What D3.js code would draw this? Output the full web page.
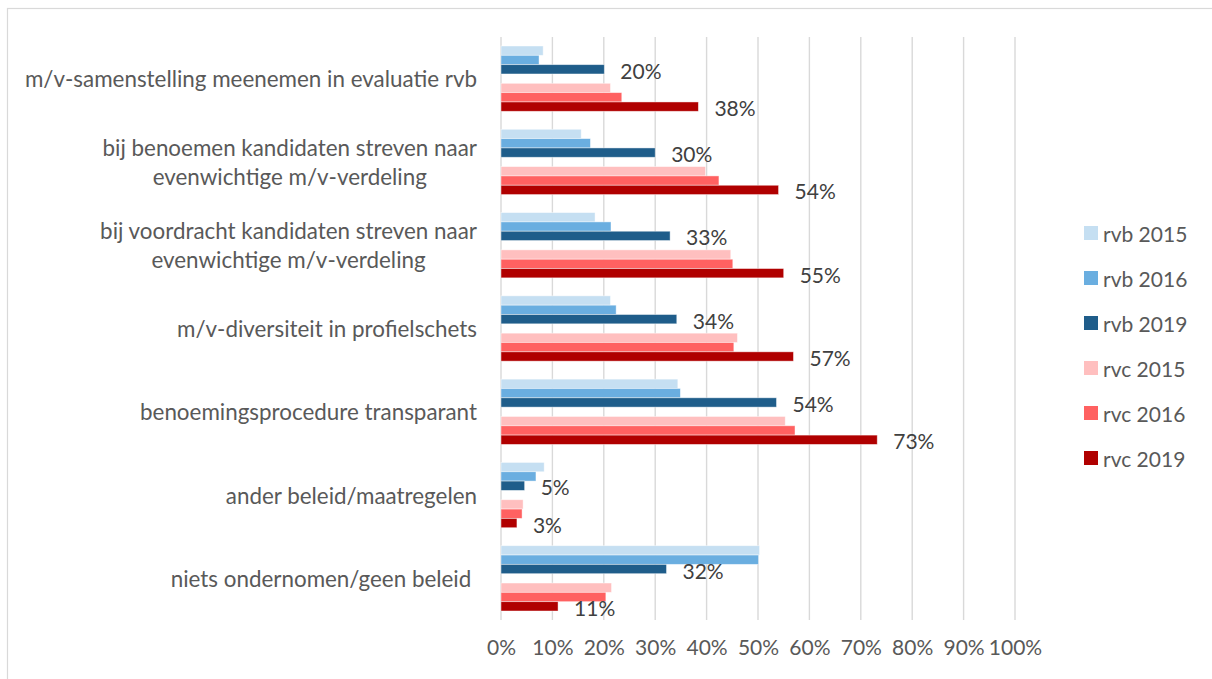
<!DOCTYPE html>
<html>
<head>
<meta charset="utf-8">
<script src="https://cdn.jsdelivr.net/npm/d3@7"></script>
<style>
  html, body { margin: 0; padding: 0; background: #fff; }
  svg { display: block; font-family: Lato, "Open Sans", sans-serif; }
</style>
</head>
<body>
<svg id="chart" width="1212" height="679"></svg>
<script>
// Policy measures on gender balance, share of companies (%)
const categories = [
  "m/v-samenstelling meenemen in evaluatie rvb",
  "bij benoemen kandidaten streven naar\nevenwichtige m/v-verdeling",
  "bij voordracht kandidaten streven naar\nevenwichtige m/v-verdeling",
  "m/v-diversiteit in profielschets",
  "benoemingsprocedure transparant",
  "ander beleid/maatregelen",
  "niets ondernomen/geen beleid "
];

const seriesNames = ["rvb 2015", "rvb 2016", "rvb 2019", "rvc 2015", "rvc 2016", "rvc 2019"];

const rvb2015 = [8.2, 15.6, 18.3, 21.3, 34.4, 8.4, 50.3];
const rvb2016 = [7.4, 17.4, 21.4, 22.4, 34.9, 6.8, 50.1];
const rvb2019 = [20.1, 30.0, 32.9, 34.2, 53.6, 4.6, 32.2];
const rvc2015 = [21.3, 39.8, 44.7, 46.0, 55.3, 4.3, 21.5];
const rvc2016 = [23.5, 42.4, 45.1, 45.3, 57.2, 4.1, 20.4];
const rvc2019 = [38.4, 54.0, 55.0, 56.9, 73.2, 3.1, 11.1];

const xTicks = [0, 10, 20, 30, 40, 50, 60, 70, 80, 90, 100];

const seriesValues = [rvb2015, rvb2016, rvb2019, rvc2015, rvc2016, rvc2019];
const colors = ["#C5DFF2", "#6AAEE0", "#1F5D8A", "#FFBFBF", "#FF6161", "#B00000"];
const labelledSeries = ["rvb 2019", "rvc 2019"];

// slot order inside each category; the empty slot separates rvb from rvc
const slots = ["rvb 2015", "rvb 2016", "rvb 2019", "gap", "rvc 2015", "rvc 2016", "rvc 2019"];

const svg = d3.select("#chart");
const textGrey = "#595959";
const fontSize = 21;
const catFontSize = 22.4;

// chart frame
svg.append("rect")
  .attr("x", 7.5).attr("y", 8.5)
  .attr("width", 1212).attr("height", 700)
  .attr("fill", "#fff").attr("stroke", "#D9D9D9").attr("stroke-width", 1.2);

const plot = { left: 501, right: 1015, top: 37, bottom: 620 };

const x = d3.scaleLinear().domain([0, 100]).range([plot.left, plot.right]);
const y = d3.scaleBand().domain(categories).range([plot.top, plot.bottom])
  .paddingInner(0.216).paddingOuter(0.108);
const ySlot = d3.scaleBand().domain(slots).range([0, y.bandwidth()]).padding(0);

// vertical gridlines
svg.append("g")
  .selectAll("line")
  .data(xTicks)
  .join("line")
  .attr("x1", d => x(d)).attr("x2", d => x(d))
  .attr("y1", plot.top).attr("y2", plot.bottom)
  .attr("stroke", "#D9D9D9").attr("stroke-width", 1.4);

// x axis labels
const xAxis = d3.axisBottom(x).tickValues(xTicks).tickFormat(d => d + "%").tickSize(0).tickPadding(0);
const gx = svg.append("g").attr("transform", `translate(0,${plot.bottom + 20})`).call(xAxis);
gx.select(".domain").remove();
gx.selectAll("text")
  .attr("fill", textGrey)
  .attr("font-size", fontSize)
  .attr("font-family", "Lato, 'Open Sans', sans-serif")
  .attr("dy", "0.71em");

// category labels, right-aligned, multiple lines centred on each other
const labelRight = 477;
const lineH = 29;
const catG = svg.append("g");
categories.forEach(c => {
  const lines = c.split("\n");
  const cy = y(c) + y.bandwidth() / 2;
  const t = catG.append("text")
    .attr("fill", textGrey)
    .attr("font-size", catFontSize)
    .style("white-space", "pre");
  const widths = [];
  lines.forEach((ln, i) => {
    t.append("tspan")
      .attr("y", cy + (i - (lines.length - 1) / 2) * lineH)
      .attr("dominant-baseline", "central")
      .text(ln);
  });
  // right-align the widest line, centre the others under it
  const spans = t.selectAll("tspan").nodes();
  spans.forEach(s => widths.push(s.getComputedTextLength()));
  const maxW = d3.max(widths);
  spans.forEach((s, i) => {
    d3.select(s).attr("x", labelRight - maxW + (maxW - widths[i]) / 2);
  });
});

// bars
const barsG = svg.append("g");
seriesNames.forEach((name, si) => {
  barsG.append("g")
    .selectAll("rect")
    .data(seriesValues[si].map((v, ci) => ({ cat: categories[ci], v })))
    .join("rect")
    .attr("x", x(0))
    .attr("y", d => y(d.cat) + ySlot(name))
    .attr("width", d => x(d.v) - x(0))
    .attr("height", ySlot.bandwidth())
    .attr("fill", colors[si])
    .attr("stroke", "rgba(255,255,255,0.55)")
    .attr("stroke-width", 0.8);
});

// value labels for the 2019 series
const labG = svg.append("g");
labelledSeries.forEach(name => {
  const si = seriesNames.indexOf(name);
  labG.append("g")
    .selectAll("text")
    .data(seriesValues[si].map((v, ci) => ({ cat: categories[ci], v })))
    .join("text")
    .attr("x", d => x(d.v) + 16)
    .attr("y", d => y(d.cat) + ySlot(name) + ySlot.bandwidth() / 2 + 1)
    .attr("dominant-baseline", "central")
    .attr("fill", "#404040")
    .attr("font-size", fontSize)
    .text(d => Math.round(d.v) + "%");
});

// legend
const legend = svg.append("g").attr("transform", "translate(1084,233)");
seriesNames.forEach((name, i) => {
  const g = legend.append("g").attr("transform", `translate(0,${i * 45})`);
  g.append("rect").attr("x", 0).attr("y", -7).attr("width", 14).attr("height", 14).attr("fill", colors[i]);
  g.append("text")
    .attr("x", 19).attr("y", 0)
    .attr("dominant-baseline", "central")
    .attr("fill", textGrey)
    .attr("font-size", fontSize)
    .text(name);
});
</script>
</body>
</html>
